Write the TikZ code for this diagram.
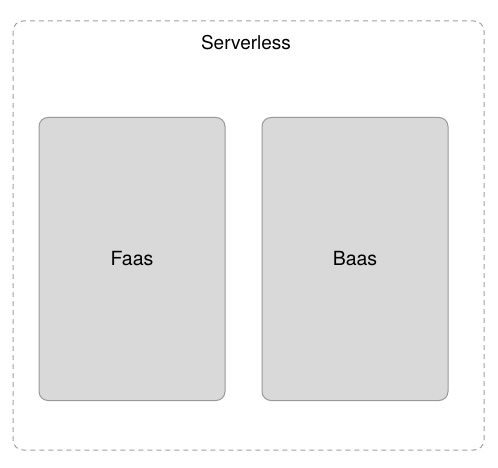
\documentclass[tikz,border=0pt]{standalone}
\usepackage{fontspec}
\setmainfont{TeX Gyre Heros}
\usetikzlibrary{positioning}

\tikzset{
  group/.style={draw=gray!75,dashed,dash pattern=on 5pt off 4pt,line width=1pt,rounded corners=10pt},
  service/.style={draw=gray!80,fill=gray!30,line width=1pt,rounded corners=9pt,
    minimum width=186pt,minimum height=283pt,inner sep=0pt,font=\fontsize{19.5}{23}\selectfont},
}

\begin{document}
\begin{tikzpicture}[x=1pt,y=-1pt]
\useasboundingbox (0,0) rectangle (498,468);
\draw[group] (13,21) rectangle (484,450);

\node[font=\fontsize{19}{23}\selectfont] (title) at (246,43) {Serverless};

\node[service] (faas) at (132,259) {Faas};
\node[service] (baas) at (355,259) {Baas};
\end{tikzpicture}
\end{document}
